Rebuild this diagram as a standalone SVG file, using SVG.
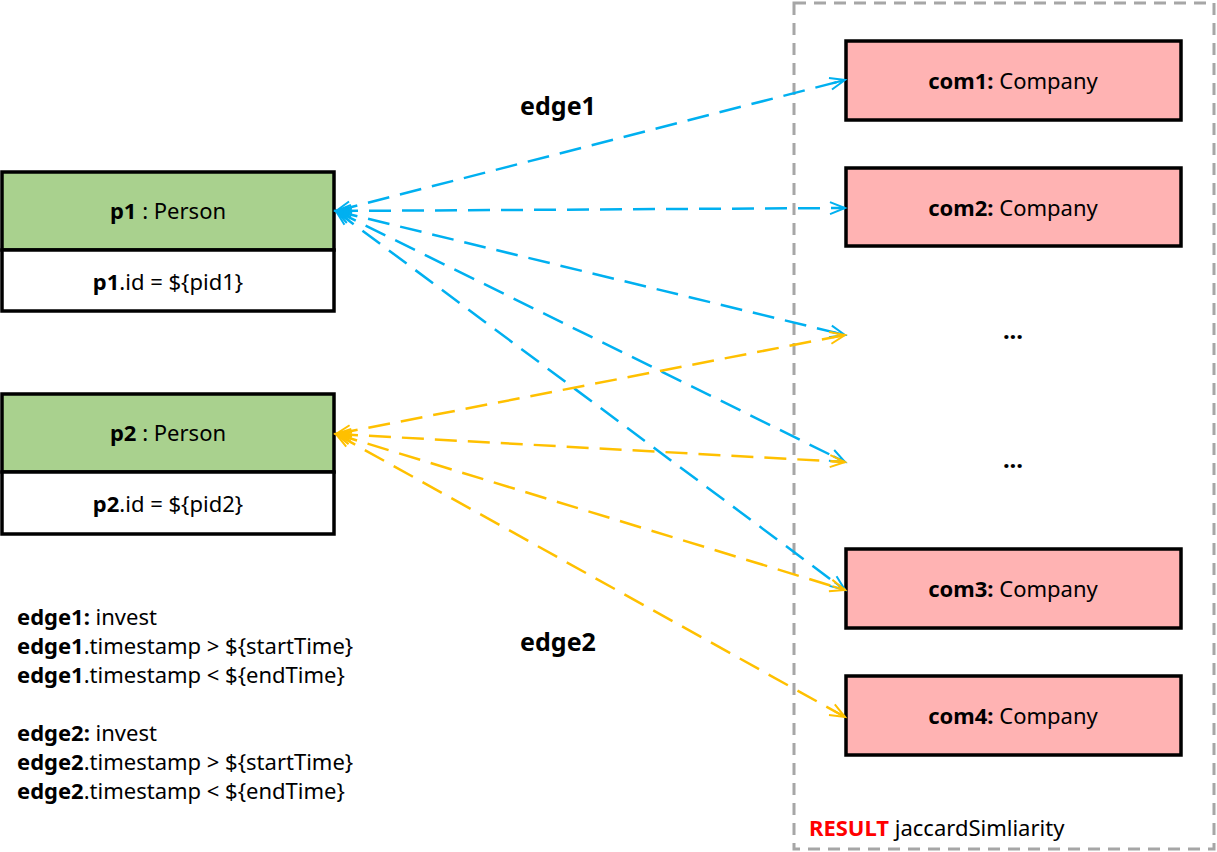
<svg xmlns="http://www.w3.org/2000/svg" width="1217" height="852" viewBox="0 0 1217 852">
<style>
text{font-family:"Noto Sans","Open Sans","Liberation Sans",sans-serif;font-size:22px;fill:#000}
.b{font-weight:bold}
.box{stroke:#000;stroke-width:3.5}
.person{fill:#A9D18E}
.white{fill:#fff}
.com{fill:#FFB3B3}
.blue{stroke:#00B0F0;stroke-width:2.5;fill:none;stroke-dasharray:22 11}
.yel{stroke:#FFC000;stroke-width:2.5;fill:none;stroke-dasharray:22 11}
</style>
<defs>
<marker id="ab" markerUnits="userSpaceOnUse" markerWidth="20" markerHeight="16" refX="16" refY="7" orient="auto-start-reverse" viewBox="0 0 20 14">
<path d="M1,1 L16,7 L1,13 M3,7 L16,7" fill="none" stroke="#00B0F0" stroke-width="2"/>
</marker>
<marker id="ay" markerUnits="userSpaceOnUse" markerWidth="20" markerHeight="16" refX="16" refY="7" orient="auto-start-reverse" viewBox="0 0 20 14">
<path d="M1,1 L16,7 L1,13 M3,7 L16,7" fill="none" stroke="#FFC000" stroke-width="2"/>
</marker>
</defs>
<rect width="1217" height="852" fill="#fff"/>
<g id="result">
<rect x="794" y="3" width="420" height="846" fill="none" stroke="#A6A6A6" stroke-width="3" stroke-dasharray="12 8"/>
<text x="809" y="836"><tspan class="b" fill="#FF0000">RESULT</tspan> jaccardSimliarity</text>
</g>
<g id="p1">
<rect class="box person" x="2" y="172" width="332" height="78"/>
<rect class="box white" x="2" y="250" width="332" height="61"/>
<text x="168" y="219" text-anchor="middle"><tspan class="b">p1</tspan> : Person</text>
<text x="168" y="290" text-anchor="middle"><tspan class="b">p1</tspan>.id = ${pid1}</text>
</g>
<g id="p2">
<rect class="box person" x="2" y="394" width="332" height="78"/>
<rect class="box white" x="2" y="472" width="332" height="62"/>
<text x="168" y="441" text-anchor="middle"><tspan class="b">p2</tspan> : Person</text>
<text x="168" y="512" text-anchor="middle"><tspan class="b">p2</tspan>.id = ${pid2}</text>
</g>
<g id="com1">
<rect class="box com" x="846" y="41" width="335" height="79"/>
<text x="1013" y="89" text-anchor="middle"><tspan class="b">com1:</tspan> Company</text>
</g>
<g id="com2">
<rect class="box com" x="846" y="168" width="335" height="78"/>
<text x="1013" y="216" text-anchor="middle"><tspan class="b">com2:</tspan> Company</text>
</g>
<g id="dots1"><text x="1013" y="339" text-anchor="middle" class="b" style="font-size:24px">...</text></g>
<g id="dots2"><text x="1013" y="468" text-anchor="middle" class="b" style="font-size:24px">...</text></g>
<g id="com3">
<rect class="box com" x="846" y="549" width="335" height="79"/>
<text x="1013" y="597" text-anchor="middle"><tspan class="b">com3:</tspan> Company</text>
</g>
<g id="com4">
<rect class="box com" x="846" y="676" width="335" height="79"/>
<text x="1013" y="724" text-anchor="middle"><tspan class="b">com4:</tspan> Company</text>
</g>
<g id="connectors">
<line class="blue" x1="336" y1="211" x2="845" y2="80" marker-start="url(#ab)" marker-end="url(#ab)"/>
<line class="blue" x1="336" y1="211" x2="845" y2="208" marker-start="url(#ab)" marker-end="url(#ab)"/>
<line class="blue" x1="336" y1="211" x2="845" y2="335" marker-start="url(#ab)" marker-end="url(#ab)"/>
<line class="blue" x1="336" y1="211" x2="845" y2="462" marker-start="url(#ab)" marker-end="url(#ab)"/>
<line class="blue" x1="336" y1="211" x2="845" y2="590" marker-start="url(#ab)" marker-end="url(#ab)"/>
<line class="yel" x1="336" y1="434" x2="845" y2="335" marker-start="url(#ay)" marker-end="url(#ay)"/>
<line class="yel" x1="336" y1="434" x2="845" y2="462" marker-start="url(#ay)" marker-end="url(#ay)"/>
<line class="yel" x1="336" y1="434" x2="845" y2="590" marker-start="url(#ay)" marker-end="url(#ay)"/>
<line class="yel" x1="336" y1="434" x2="845" y2="717" marker-start="url(#ay)" marker-end="url(#ay)"/>
</g>
<g id="labels">
<text x="558" y="115" text-anchor="middle" class="b" style="font-size:25px">edge1</text>
<text x="558" y="651" text-anchor="middle" class="b" style="font-size:25px">edge2</text>
</g>
<g id="legend" style="font-size:20.7px">
<text x="17" y="625"><tspan class="b">edge1:</tspan> invest</text>
<text x="17" y="654"><tspan class="b">edge1</tspan>.timestamp &gt; ${startTime}</text>
<text x="17" y="683"><tspan class="b">edge1</tspan>.timestamp &lt; ${endTime}</text>
<text x="17" y="741"><tspan class="b">edge2:</tspan> invest</text>
<text x="17" y="770"><tspan class="b">edge2</tspan>.timestamp &gt; ${startTime}</text>
<text x="17" y="799"><tspan class="b">edge2</tspan>.timestamp &lt; ${endTime}</text>
</g>
</svg>
